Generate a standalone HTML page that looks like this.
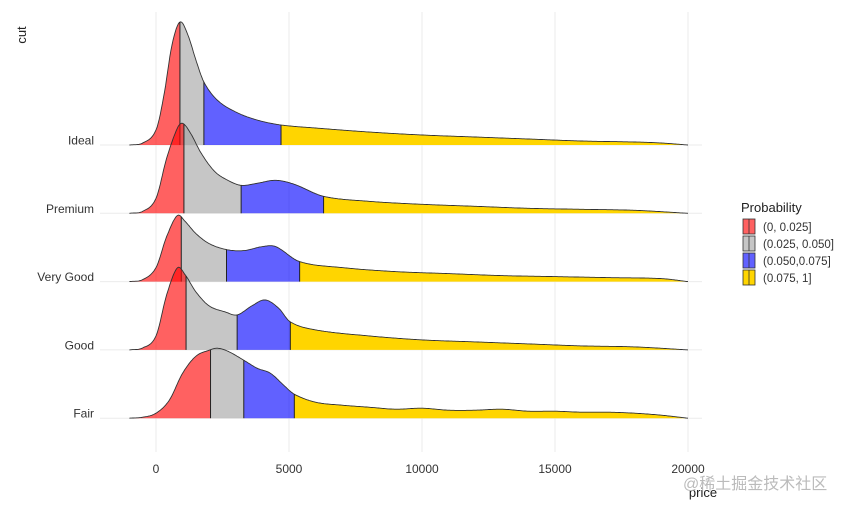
<!DOCTYPE html>
<html><head><meta charset="utf-8"><style>
body{margin:0;background:#fff}
svg{display:block;font-family:"Liberation Sans","Noto Sans CJK SC",sans-serif}
</style></head><body>
<svg id="c" width="867" height="508" viewBox="0 0 867 508"></svg>
<script>
const categories=["Ideal","Premium","Very Good","Good","Fair"];
const idealP=[-1000,-500,0,300,600,900,1200,1500,1800,2300,3000,3800,4700,6000,8000,10000,12000,14000,16000,18000,19000,20000];
const idealD=[0,2,15,50,100,123,110,85,63,45,33,25,20,17,13,10,8,6,4,3,2,0];
const premP=[-1000,-500,0,400,800,1000,1300,1700,2200,2700,3200,3800,4500,5200,6300,8000,10000,12000,14000,16000,18000,20000];
const premD=[0,2,15,55,85,90,80,60,42,33,28,30,33,29,17,12,9,7,5,4,3,0];
const vgP=[-1000,-500,0,400,800,1100,1500,2000,2650,3300,4000,4500,5400,7000,9000,11000,13000,15000,17000,19000,20000];
const vgD=[0,2,14,45,66,60,48,38,32,31,35,35,20,14,10,8,6,5,4,3,0];
const goodP=[-1000,-500,0,400,800,1100,1500,2000,2600,3050,3600,4100,4600,5050,6000,8000,10000,12000,14000,16000,18000,20000];
const goodD=[0,2,14,55,82,75,58,44,38,35,44,50,42,28,20,14,10,8,6,4,3,0];
const fairP=[-1000,-500,0,500,1000,1500,2000,2300,2700,3300,3800,4300,4800,5200,6000,7000,8000,9000,10000,11000,12000,13000,14000,15000,16000,17000,18000,19000,20000];
const fairD=[0,1,5,18,45,62,68,70,67,58,50,45,33,24,16,13,11,9,10,8,8,9,7,7,6,6,5,3,0];
const cuts=[[900,1800,4700],[1050,3200,6300],[950,2650,5400],[1130,3050,5050],[2050,3300,5200]];
const xTicks=[0,5000,10000,15000,20000];
const legendLabels=["(0, 0.025]","(0.025, 0.050]","(0.050,0.075]","(0.075, 1]"];
const fills=["rgba(255,0,0,0.62)","rgba(160,160,160,0.6)","rgba(0,0,255,0.62)","rgb(255,213,0)"];
const series=[[idealP,idealD],[premP,premD],[vgP,vgD],[goodP,goodD],[fairP,fairD]];

const NS="http://www.w3.org/2000/svg";
const svg=document.getElementById('c');
const X=p=>156+p*(532/20000);
const Y=i=>145+i*68.3;
function el(t,a,parent){const e=document.createElementNS(NS,t);for(const k in a)e.setAttribute(k,a[k]);(parent||svg).appendChild(e);return e;}
function interp(P,D,p){
  if(p<=P[0])return D[0]; if(p>=P[P.length-1])return D[D.length-1];
  let i=0;while(P[i+1]<p)i++;
  const p0=P[Math.max(i-1,0)],p1=P[i],p2=P[i+1],p3=P[Math.min(i+2,P.length-1)];
  const d0=D[Math.max(i-1,0)],d1=D[i],d2=D[i+1],d3=D[Math.min(i+2,P.length-1)];
  const m1=(d2-d0)/(p2-p0||1)*(p2-p1), m2=(d3-d1)/(p3-p1||1)*(p2-p1);
  const t=(p-p1)/(p2-p1),t2=t*t,t3=t2*t;
  return Math.max(0,(2*t3-3*t2+1)*d1+(t3-2*t2+t)*m1+(-2*t3+3*t2)*d2+(t3-t2)*m2);
}
xTicks.forEach(t=>{const g=el('line',{x1:X(t),x2:X(t),y1:12,y2:452,stroke:'#ebebeb','stroke-width':1});
});
categories.forEach((c,i)=>{const g=el('line',{x1:100,x2:702,y1:Y(i),y2:Y(i),stroke:'#ebebeb','stroke-width':1});
});
series.forEach((s,i)=>{
  const [P,D]=s,b=Y(i),lo=P[0],hi=P[P.length-1];
  const g=el('g',{});
  
  
  const bounds=[lo,...cuts[i],hi];
  for(let k=0;k<4;k++){
    let pts=[];const a=bounds[k],bb=bounds[k+1];
    for(let p=a;p<bb;p+=40)pts.push([X(p),b-interp(P,D,p)]);
    pts.push([X(bb),b-interp(P,D,bb)]);
    const d='M'+X(a)+','+b+' L'+pts.map(q=>q[0].toFixed(1)+','+q[1].toFixed(1)).join(' L')+' L'+X(bb)+','+b+'Z';
    const f=el('path',{d,fill:fills[k],stroke:'none'},g);
    
    
  }
  let pts=[];for(let p=lo;p<=hi;p+=40)pts.push(X(p).toFixed(1)+','+(b-interp(P,D,p)).toFixed(1));
  el('path',{d:'M'+pts.join(' L'),fill:'none',stroke:'#333','stroke-width':0.9},g);
  cuts[i].forEach(cp=>el('line',{x1:X(cp),x2:X(cp),y1:b,y2:b-interp(P,D,cp),stroke:'#222','stroke-width':1},g));
  const t=el('text',{x:94,y:b-0.5,'text-anchor':'end','font-size':12,fill:'#333'});
  t.textContent=categories[i];
  
});
xTicks.forEach(t=>{const e=el('text',{x:X(t),y:473,'text-anchor':'middle','font-size':12,fill:'#333'});e.textContent=t;
});
const xt=el('text',{x:703,y:497,'text-anchor':'middle','font-size':13,fill:'#222'});xt.textContent='price';

const yt=el('text',{x:0,y:0,transform:'translate(26,35) rotate(-90)','text-anchor':'middle','font-size':13,fill:'#222'});yt.textContent='cut';

const lg=el('g',{});
const lt=el('text',{x:741,y:212,'font-size':13,fill:'#222'},lg);lt.textContent='Probability';
legendLabels.forEach((l,k)=>{
  const y0=219+k*17;
  const r=el('rect',{x:743,y:y0,width:12,height:15,fill:fills[k],stroke:'#333','stroke-width':0.8},lg);
  
  el('line',{x1:749,x2:749,y1:y0,y2:y0+15,stroke:'#333','stroke-width':0.8},lg);
  const tx=el('text',{x:763,y:y0+12,'font-size':11.5,fill:'#333'},lg);tx.textContent=l;
  
});
const wm=el('text',{x:683,y:489,'font-size':16,fill:'#bbb'});wm.textContent='@稀土掘金技术社区';

</script>
</body></html>
